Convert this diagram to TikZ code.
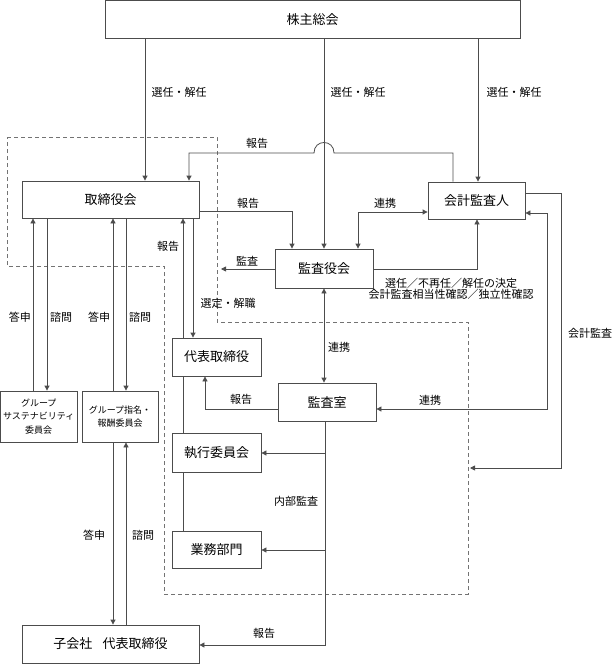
\documentclass[tikz,border=0pt]{standalone}
\usepackage{fontspec}
\setmainfont{Noto Sans CJK JP}
\usetikzlibrary{arrows.meta}
\definecolor{lineg}{gray}{0.3}
\begin{document}
\begin{tikzpicture}[x=1pt,y=-1pt,line width=.8pt,
  box/.style={draw=lineg,fill=white,inner sep=0pt,font=\fontsize{13}{15}\selectfont},
  sbox/.style={box,align=center,font=\fontsize{9}{13.5}\selectfont},
  lbl/.style={inner sep=0pt,font=\fontsize{11}{12}\selectfont},
  arr/.style={draw=lineg,-{Triangle[length=5pt,width=5pt]}},
  darr/.style={draw=lineg,{Triangle[length=5pt,width=5pt]}-{Triangle[length=5pt,width=5pt]}},
  ln/.style={draw=lineg},
  grp/.style={draw=black!55,dash pattern=on 4pt off 3pt}]

\useasboundingbox (0,0) rectangle (613,664);

\draw[grp] (7,137) -- (217,137) -- (217,322) -- (468,322) -- (468,594) -- (164,594) -- (164,266) -- (7,266) -- cycle;

\node[box,minimum width=415pt,minimum height=37.5pt] (soukai) at (312.5,19.25) {株主総会};
\node[box,minimum width=177pt,minimum height=37pt] (torishimari) at (110.5,199.5) {取締役会};
\node[box,minimum width=98pt,minimum height=39pt] (kansayaku) at (324,268.5) {監査役会};
\node[box,minimum width=97pt,minimum height=37pt] (kaikei) at (476.5,200.5) {会計監査人};
\node[box,minimum width=89pt,minimum height=38pt] (daihyo) at (216.5,357) {代表取締役};
\node[box,minimum width=98pt,minimum height=38pt] (kansa) at (327,402) {監査室};
\node[box,minimum width=89pt,minimum height=39pt] (shikkou) at (216.5,452.5) {執行委員会};
\node[box,minimum width=89pt,minimum height=37pt] (gyomu) at (216.5,549.5) {業務部門};
\node[sbox,minimum width=76.5pt,minimum height=51pt] (sustain) at (38.75,416.5) {グループ\\サステナビリティ\\委員会};
\node[sbox,minimum width=76pt,minimum height=51pt] (shimei) at (120,416.5) {グループ指名・\\報酬委員会};
\node[box,minimum width=177pt,minimum height=38pt] (kogaisha) at (110.5,644) {子会社\hspace{.8em}代表取締役};

\coordinate (kansaend) at (221,269);
\coordinate (kaikeiend) at (470,468);

\draw[arr] (soukai.south -| 145,0) -- (torishimari.north -| 145,0);
\draw[arr] (soukai.south -| kansayaku.north) -- (kansayaku.north);
\draw[arr] (soukai.south -| 478,0) -- (kaikei.north -| 478,0);

\draw[arr] (kaikei.north -| 453,0) |- (334,153) .. controls (334,139) and (314,139) .. (314,153) -| (torishimari.north -| 189,0);
\draw[arr] (torishimari.east |- 0,211) -| (kansayaku.north -| 292,0);
\draw[arr] (kansayaku.west |- kansaend) -- (kansaend);
\draw[darr] (kansayaku.north -| 358,0) |- (kaikei.west |- 0,212);
\draw[arr] (kansayaku.east |- 0,269) -| (kaikei.south -| 477,0);
\draw[arr] (kaikei.east |- 0,193) -| (kaikeiend -| 561,0) -- (kaikeiend);
\draw[darr] (kansa.east |- 0,409) -| (547,213) -- (kaikei.east |- 0,213);
\draw[darr] (kansayaku.south) -- (kansayaku.south |- kansa.north);
\draw[arr] (kansa.west |- 0,409) -| (daihyo.south -| 205,0);

\draw[arr] (kansa.south -| 325,0) |- (kogaisha.east |- 0,645);
\draw[arr] (kansa.south -| 325,0) |- (shikkou.east |- 0,453);
\draw[arr] (kansa.south -| 325,0) |- (gyomu.east |- 0,550);

\draw[ln] (gyomu.north -| 183,0) -- (shikkou.south -| 183,0);
\draw[ln] (shikkou.north -| 183,0) -- (daihyo.south -| 183,0);
\draw[arr] (daihyo.north -| 183,0) -- (torishimari.south -| 183,0);
\draw[arr] (torishimari.south -| 193,0) -- (daihyo.north -| 193,0);

\draw[arr] (sustain.north -| 33,0) -- (torishimari.south -| 33,0);
\draw[arr] (torishimari.south -| 47,0) -- (sustain.north -| 47,0);
\draw[arr] (shimei.north -| 113,0) -- (torishimari.south -| 113,0);
\draw[arr] (torishimari.south -| 126,0) -- (shimei.north -| 126,0);
\draw[arr] (shimei.south -| 113,0) -- (kogaisha.north -| 113,0);
\draw[arr] (kogaisha.north -| 126,0) -- (shimei.south -| 126,0);

\node[lbl] (senA) at (179,92) {選任・解任};
\node[lbl] (senB) at (358,92) {選任・解任};
\node[lbl] (senC) at (514,92) {選任・解任};
\node[lbl] (hokA) at (257,143) {報告};
\node[lbl] (hokB) at (248,203) {報告};
\node[lbl] (renA) at (385,203) {連携};
\node[lbl] (hokC) at (168,246) {報告};
\node[lbl] (kansaL) at (247,261) {監査};
\node[lbl,align=center,font=\fontsize{11}{11}\selectfont] (kettei) at (451,289) {選任／不再任／解任の決定\\会計監査相当性確認／独立性確認};
\node[lbl] (sentei) at (228,303) {選定・解職};
\node[lbl] (toA) at (20,317) {答申};
\node[lbl] (shiA) at (61,317) {諮問};
\node[lbl] (toB) at (99,317) {答申};
\node[lbl] (shiB) at (140,317) {諮問};
\node[lbl] (kaikeiL) at (590,333) {会計監査};
\node[lbl] (renB) at (339,347) {連携};
\node[lbl] (hokD) at (241,399) {報告};
\node[lbl] (renC) at (430,400) {連携};
\node[lbl] (naibu) at (296,501) {内部監査};
\node[lbl] (toC) at (94,535) {答申};
\node[lbl] (shiC) at (143,535) {諮問};
\node[lbl] (hokE) at (264,633) {報告};
\end{tikzpicture}
\end{document}
